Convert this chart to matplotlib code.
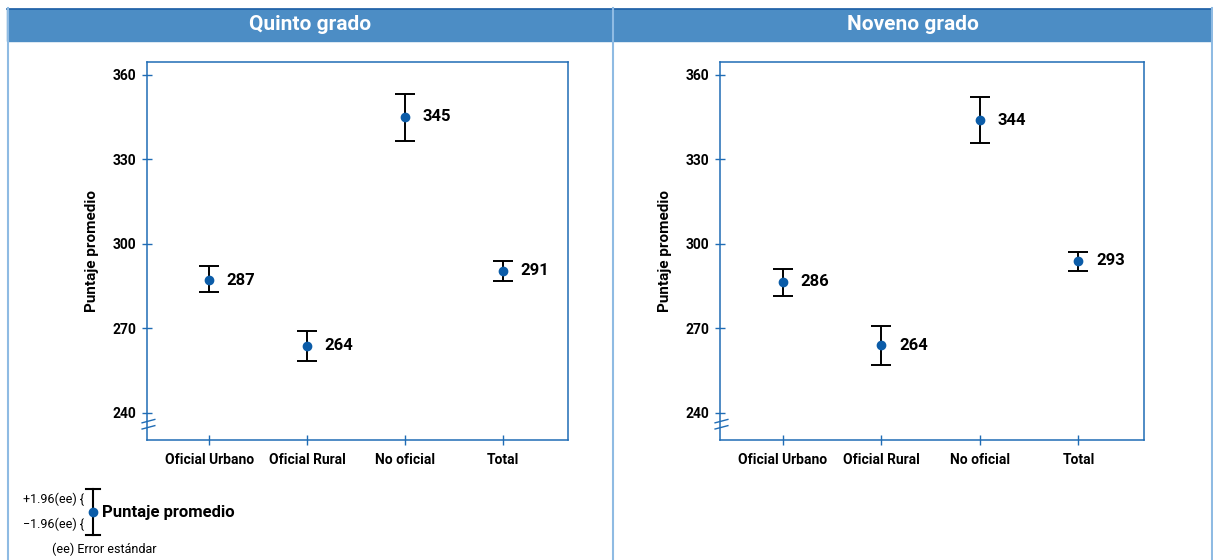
import matplotlib
matplotlib.use("Agg")
import matplotlib.pyplot as plt
from matplotlib.patches import Rectangle
from matplotlib.lines import Line2D

plt.rcParams['font.family'] = ['Liberation Sans Narrow', 'Roboto', 'DejaVu Sans']

categorias = ["Oficial Urbano", "Oficial Rural", "No oficial", "Total"]
titulos = ["Quinto grado", "Noveno grado"]

# promedio, limite inferior, limite superior (promedio ± 1.96 ee)
quinto_prom = [287.2, 263.8, 345.1, 290.4]
quinto_inf = [283.0, 258.5, 336.6, 286.9]
quinto_sup = [292.2, 269.1, 353.3, 294.0]
quinto_etiq = ["287", "264", "345", "291"]

noveno_prom = [286.5, 264.1, 344.0, 294.0]
noveno_inf = [281.5, 257.0, 335.9, 290.4]
noveno_sup = [291.1, 270.9, 352.2, 297.2]
noveno_etiq = ["286", "264", "344", "293"]

yticks = [240, 270, 300, 330, 360]

W, H = 1213, 560
AZUL = "#1f6cb5"
AZUL_HDR = "#4c8dc5"
AZUL_CLARO = "#8fbbe3"
PUNTO = "#0b5ca8"

fig = plt.figure(figsize=(W / 100, H / 100), dpi=100)


def px(x0, y0, x1, y1):
    return [x0 / W, 1 - y1 / H, (x1 - x0) / W, (y1 - y0) / H]


# encabezados y marco
fig.patches.append(Rectangle((7 / W, 1 - 41 / H), (W - 8) / W, 32 / H,
                             transform=fig.transFigure, color=AZUL_HDR, zorder=0))
fig.add_artist(Line2D([7 / W, 1], [1 - 8.5 / H] * 2, color="#1d5fa5", lw=1.2))
fig.add_artist(Line2D([7.5 / W] * 2, [0, 1 - 8 / H], color=AZUL_CLARO, lw=1.5))
fig.add_artist(Line2D([613 / W] * 2, [0, 1 - 8 / H], color=AZUL_CLARO, lw=1.5))
fig.add_artist(Line2D([1212 / W] * 2, [0, 1 - 8 / H], color=AZUL_CLARO, lw=1.5))
fig.text(310 / W, 1 - 25 / H, titulos[0], ha="center", va="center",
         color="white", fontsize=15, fontweight="bold")
fig.text(913 / W, 1 - 25 / H, titulos[1], ha="center", va="center",
         color="white", fontsize=15, fontweight="bold")


def panel(rect, prom, inf, sup, etiq):
    ax = fig.add_axes(rect)
    x = list(range(len(categorias)))
    yerr = [[p - i for p, i in zip(prom, inf)], [s - p for p, s in zip(prom, sup)]]
    ax.errorbar(x, prom, yerr=yerr, fmt="o", color=PUNTO, ms=6,
                ecolor="black", elinewidth=1.4, capsize=7, capthick=1.4, zorder=3)
    for xi, p, t in zip(x, prom, etiq):
        ax.text(xi + 0.18, p, t, ha="left", va="center", fontsize=12,
                fontweight="bold")
    ax.set_xlim(-0.635, 3.665)
    ax.set_ylim(230.4, 364.6)
    ax.set_yticks(yticks)
    ax.set_xticks(x)
    ax.set_xticklabels(categorias)
    for lbl in ax.get_xticklabels() + ax.get_yticklabels():
        lbl.set_fontweight("bold")
        lbl.set_fontsize(10)
    ax.tick_params(axis="both", direction="inout", length=7, color=AZUL, width=1)
    ax.tick_params(axis="y", pad=4)
    ax.tick_params(axis="x", pad=6)
    for s in ax.spines.values():
        s.set_color(AZUL)
        s.set_linewidth(1.1)
    ax.set_ylabel("Puntaje promedio", fontsize=11, fontweight="bold", labelpad=10)
    # marca de corte del eje
    for dy in (-1.1, 1.1):
        ax.plot([-0.635 - 0.05, -0.635 + 0.08], [236.0 + dy - 0.6, 236.0 + dy + 0.6],
                color=AZUL, lw=1, clip_on=False, zorder=4)
    return ax


panel(px(147, 62, 568, 440), quinto_prom, quinto_inf, quinto_sup, quinto_etiq)
panel(px(720, 62, 1144, 440), noveno_prom, noveno_inf, noveno_sup, noveno_etiq)

# leyenda
lx = 93 / W
fig.add_artist(Line2D([lx, lx], [1 - 489 / H, 1 - 535 / H], color="black", lw=1.5))
fig.add_artist(Line2D([86 / W, 100 / W], [1 - 489 / H] * 2, color="black", lw=1.5))
fig.add_artist(Line2D([86 / W, 100 / W], [1 - 535 / H] * 2, color="black", lw=1.5))
fig.add_artist(Line2D([lx], [1 - 512 / H], marker="o", color=PUNTO, ms=6))
fig.text(102 / W, 1 - 513 / H, "Puntaje promedio", fontsize=12, fontweight="bold",
         va="center", ha="left")
fig.text(84 / W, 1 - 499 / H, "+1.96(ee) {", fontsize=9, va="center", ha="right")
fig.text(84 / W, 1 - 524 / H, "\u22121.96(ee) {", fontsize=9, va="center", ha="right")
fig.text(52 / W, 1 - 549 / H, "(ee) Error estándar", fontsize=9, va="center", ha="left")

fig.savefig("out.png", dpi=100)
